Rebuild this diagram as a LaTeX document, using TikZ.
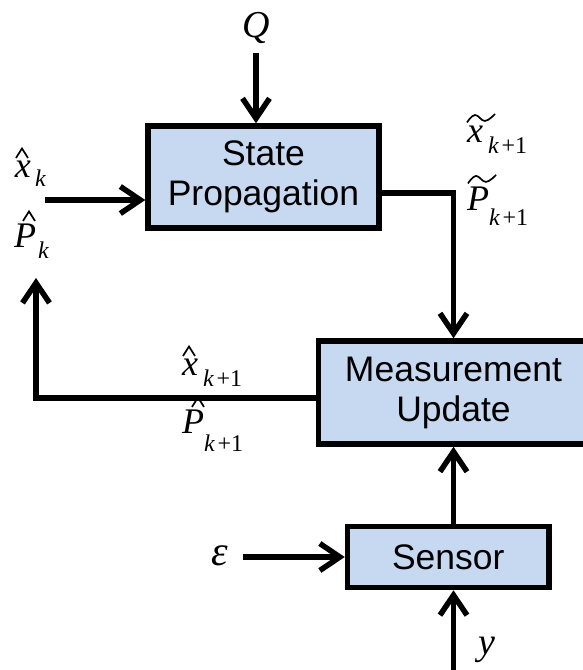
\documentclass[tikz,border=0pt]{standalone}
\usepackage{fontspec}
\setmainfont{Liberation Sans}
\newfontfamily\tms{Liberation Serif}
\usetikzlibrary{arrows.meta,calc}
\definecolor{boxblue}{HTML}{C6D9F1}

\tikzset{
  block/.style={draw=black, fill=boxblue, line width=5.5pt, inner sep=0pt,
    align=center, font=\fontsize{35.5}{40}\selectfont},
  conn/.style={line width=5.5pt, -{Straight Barb[length=20pt,width=27pt]}},
  sym/.style={inner sep=0pt, outer sep=0pt, anchor=base west,
    font=\tms\itshape\fontsize{36}{36}\selectfont},
  subscr/.style={inner sep=0pt, outer sep=0pt, anchor=base west,
    font=\tms\itshape\fontsize{24}{24}\selectfont},
  accent/.style={line width=1.7pt, line join=miter},
}
% hat over a letter node: #1 node name, #2 horizontal offset of the apex
\newcommand\hatover[2]{%
  \draw[accent] ($(#1.north)+(#2-6,-2.5)$) -- ($(#1.north)+(#2,-12)$) -- ($(#1.north)+(#2+6,-2.5)$);}
% wide tilde over a letter node
\newcommand\tildeover[2]{%
  \draw[accent] plot[smooth, tension=0.7] coordinates {
    ($(#1.north)+(#2-8,-3)$) ($(#1.north)+(#2,-10.5)$)
    ($(#1.north)+(#2+10,-4.5)$) ($(#1.north)+(#2+20,-11.5)$)};}
\newcommand\kp{k\kern3pt\upshape+1}

\begin{document}
\begin{tikzpicture}[x=1pt, y=-1pt]
  \useasboundingbox (0,0) rectangle (583,670);
  \clip (0,0) rectangle (583,670);

  % filter blocks
  \node[block, minimum width=231pt, minimum height=102pt] (sp) at (263.5,177) {State\\Propagation};
  \node[block, minimum width=270pt, minimum height=103pt] (mu) at (453.5,392.5) {Measurement\\Update};
  \node[block, minimum width=201.5pt, minimum height=61pt] (sen) at (448.25,557) {Sensor};

  % free ends of the connectors
  \coordinate (qs) at (256,53);
  \coordinate (ins) at (45,200);
  \coordinate (bend) at (453.5,193);
  \coordinate (fb) at (36,398);
  \coordinate (fbtop) at (36,278);
  \coordinate (es) at (243,557);
  \coordinate (ys) at (453.5,680);

  % connectors
  \draw[conn] (qs) -- (qs |- sp.north);
  \draw[conn] (ins) -- (ins -| sp.west);
  \draw[conn] (bend -| sp.east) -- (bend) -- (mu.north);
  \draw[conn] (fb -| mu.west) -- (fb) -- (fbtop);
  \draw[conn] (sen.north -| mu.north) -- (mu.south);
  \draw[conn] (es) -- (es -| sen.west);
  \draw[conn] (ys) -- (ys |- sen.south);

  % process noise Q
  \node[sym, anchor=base, font=\tms\itshape\fontsize{38}{38}\selectfont] (q) at (256.5,37) {Q};

  % prior estimate
  \node[sym] (xk) at (15,177) {x};
  \node[subscr] (xks) at (35,186) {k};
  \hatover{xk}{-1}
  \node[sym] (pk) at (14,247) {P};
  \node[subscr] (pks) at (38,258) {k};
  \hatover{pk}{4}

  % predicted estimate
  \node[sym] (xt) at (467,142) {x};
  \node[subscr] (xts) at (488,153) {\kp};
  \tildeover{xt}{0}
  \node[sym] (pt) at (467,210) {P};
  \node[subscr] (pts) at (489,225) {\kp};
  \tildeover{pt}{-2}

  % updated estimate
  \node[sym] (xu) at (182,375) {x};
  \node[subscr] (xus) at (203,386) {\kp};
  \hatover{xu}{-1}
  \node[sym] (pu) at (182,433) {P};
  \node[subscr] (pus) at (204,451) {\kp};
  \hatover{pu}{5}

  % sensor noise and measurement
  \node[sym, anchor=base, font=\tms\itshape\fontsize{42}{42}\selectfont] (eps) at (220,565) {ε};
  \node[sym, font=\tms\itshape\fontsize{38}{38}\selectfont] (ym) at (478,654) {y};
\end{tikzpicture}
\end{document}
